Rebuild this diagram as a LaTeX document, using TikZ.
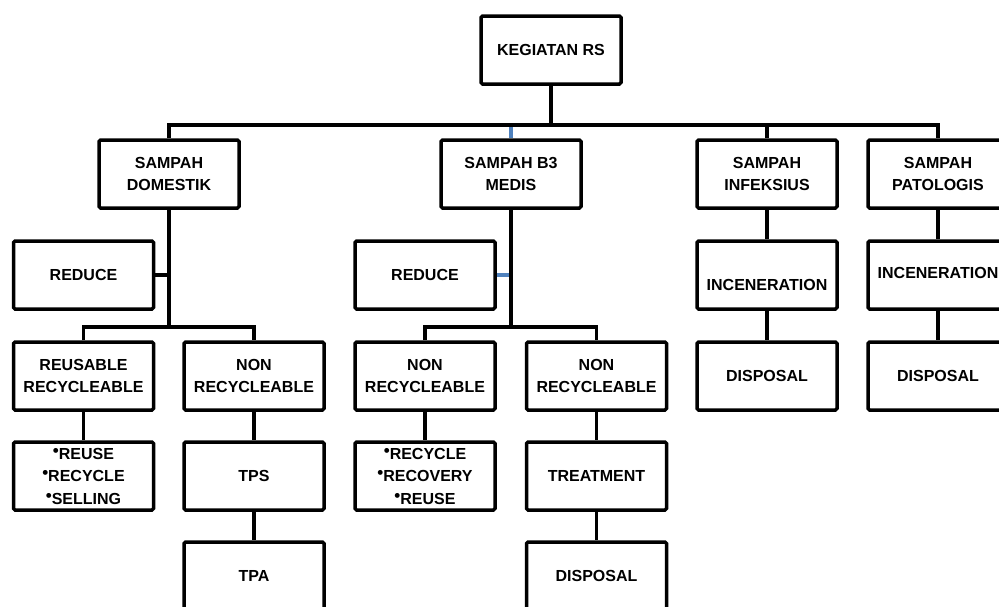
\documentclass[tikz,border=0pt]{standalone}
\usepackage{fontspec}
\setmainfont{Liberation Sans}
\definecolor{linkblue}{RGB}{79,129,189}
\newcommand\mybul{\raisebox{3pt}{\fontsize{17}{17}\selectfont\char"2022}}
\begin{document}
\begin{tikzpicture}[x=1pt,y=-1pt,
  box/.style={draw, line width=3.5pt, rounded corners=1.5pt, minimum width=140pt,
    minimum height=68pt, inner sep=0pt, align=center,
    font=\fontsize{16}{22.5}\selectfont\bfseries},
  txt/.style={inner sep=0pt, font=\fontsize{16}{22.5}\selectfont\bfseries},
  conn/.style={line width=3.5pt},
  blueconn/.style={line width=3.5pt, draw=linkblue}]
\useasboundingbox (0,0) rectangle (999,606);
\clip (0,0) rectangle (999,606);
% level 0
\node[box] (top) at (551,50) {KEGIATAN RS};
% level 1
\node[box] (dom) at (169,174) {SAMPAH\\DOMESTIK};
\node[box] (b3) at (511,174) {SAMPAH B3\\MEDIS};
\node[box] (inf) at (767,174) {SAMPAH\\INFEKSIUS};
\node[box] (pat) at (938,174) {SAMPAH\\PATOLOGIS};
% level 2
\node[box] (red1) at (83.5,275) {REDUCE};
\node[box] (red2) at (425,275) {REDUCE};
\node[box] (inc1) at (767,275) {};
\node[txt] (inc1t) at (767,285) {INCENERATION};
\node[box] (inc2) at (938,275) {};
\node[txt] (inc2t) at (938,273) {INCENERATION};
% level 3
\node[box] (reus) at (83.5,376) {REUSABLE\\RECYCLEABLE};
\node[box] (nonr1) at (254,376) {NON\\RECYCLEABLE};
\node[box] (nonr2) at (425,376) {NON\\RECYCLEABLE};
\node[box] (nonr3) at (596.5,376) {NON\\RECYCLEABLE};
\node[box] (disp1) at (767,376) {DISPOSAL};
\node[box] (disp2) at (938,376) {DISPOSAL};
% level 4
\node[box] (bul1) at (83.5,476) {\mybul REUSE\\\mybul RECYCLE\\\mybul SELLING};
\node[box] (tps) at (254,476) {TPS};
\node[box] (bul2) at (425,476) {\mybul RECYCLE\\\mybul RECOVERY\\\mybul REUSE};
\node[box] (treat) at (596.5,476) {TREATMENT};
% level 5
\node[box] (tpa) at (254,576) {TPA};
\node[box] (disp3) at (596.5,576) {DISPOSAL};
% connectors
\coordinate (barA) at (0,125);
\coordinate (barB) at (0,327);
\draw[blueconn] (b3.north) -- (b3.north |- barA);
\draw[conn] (top.south) -- (top.south |- barA);
\draw[conn] (dom.north) |- (pat.north |- barA) -- (pat.north);
\draw[conn] (inf.north) -- (inf.north |- barA);
% domestik branch
\draw[conn] (dom.south) -- (dom.south |- barB);
\draw[conn] (red1.east) -- (red1.east -| dom.south);
\draw[conn] (reus.north) |- (nonr1.north |- barB) -- (nonr1.north);
% b3 branch
\draw[blueconn] (red2.east) -- (red2.east -| b3.south);
\draw[conn] (b3.south) -- (b3.south |- barB);
\draw[conn] (nonr2.north) |- (nonr3.north |- barB) -- (nonr3.north);
% chains
\draw[conn] (reus.south) -- (bul1.north);
\draw[conn] (nonr1.south) -- (tps.north);
\draw[conn] (tps.south) -- (tpa.north);
\draw[conn] (nonr2.south) -- (bul2.north);
\draw[conn] (nonr3.south) -- (treat.north);
\draw[conn] (treat.south) -- (disp3.north);
\draw[conn] (inf.south) -- (inc1.north);
\draw[conn] (inc1.south) -- (disp1.north);
\draw[conn] (pat.south) -- (inc2.north);
\draw[conn] (inc2.south) -- (disp2.north);
\end{tikzpicture}
\end{document}
